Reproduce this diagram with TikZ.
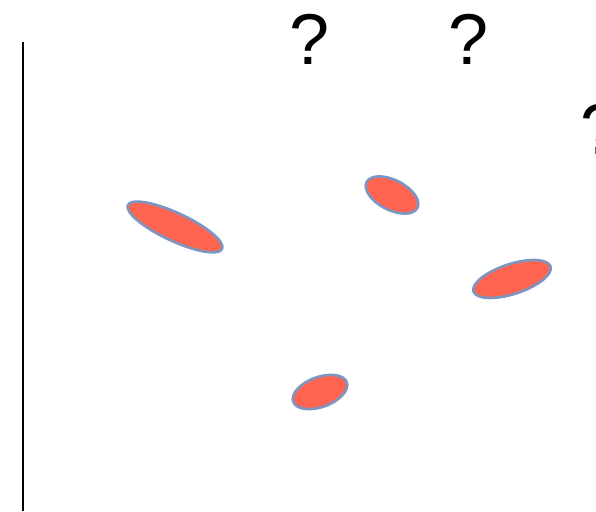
\documentclass[tikz,border=0pt]{standalone}
\usepackage{fontspec}
\setmainfont{Liberation Sans}
\usetikzlibrary{shapes.geometric}
\definecolor{blobfill}{HTML}{FF6450}
\definecolor{blobline}{HTML}{7C96C2}
\begin{document}
\begin{tikzpicture}[x=1pt,y=1pt,
  blob/.style={ellipse, draw=blobline, line width=2.6pt, fill=blobfill, inner sep=0pt},
  qmark/.style={anchor=base, inner sep=0pt, font=\fontsize{72}{72}\selectfont}]
\useasboundingbox (0,0) rectangle (596,511);
\clip (0,0) rectangle (596,511);
\coordinate (axtop) at (23,469);
\coordinate (axbot) at (23,0);
\draw[line width=1.6pt] (axtop) -- (axbot);
\node[qmark] (q1) at (310,446) {?};
\node[qmark] (q2) at (469,446) {?};
\node[qmark] (q3) at (601,356) {?};
\node[blob, minimum width=104pt, minimum height=28pt, rotate=-25] (e1) at (175,284) {};
\node[blob, minimum width=57pt, minimum height=30pt, rotate=-27] (e2) at (392,316) {};
\node[blob, minimum width=81pt, minimum height=30pt, rotate=18] (e3) at (512,232) {};
\node[blob, minimum width=57pt, minimum height=30pt, rotate=20] (e4) at (320,119) {};
\end{tikzpicture}
\end{document}
